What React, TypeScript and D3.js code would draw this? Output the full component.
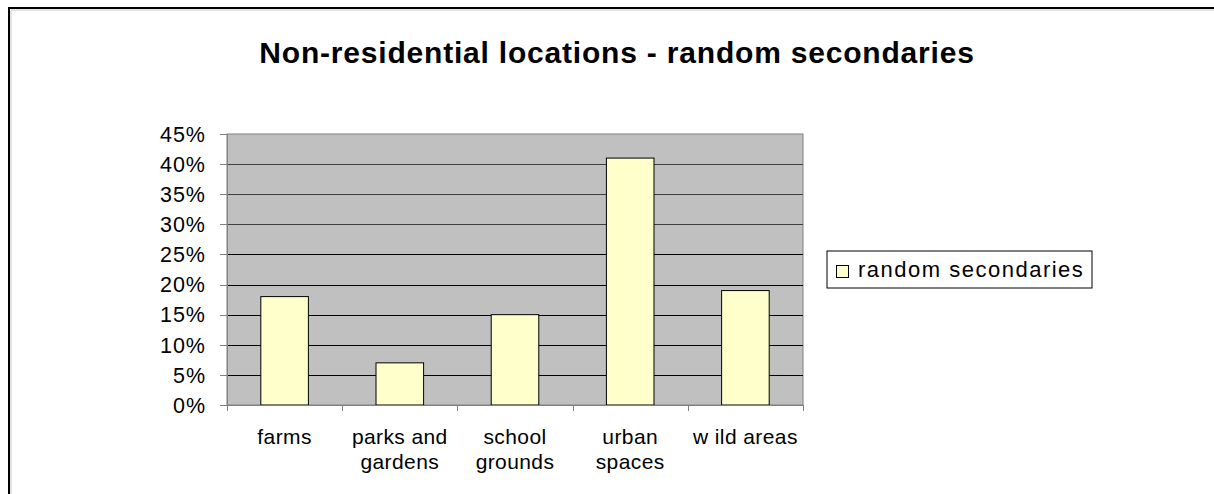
import React from "react";
import * as d3 from "d3";

const categories: string[][] = [
  ["farms"],
  ["parks and", "gardens"],
  ["school", "grounds"],
  ["urban", "spaces"],
  ["w ild areas"],
];
const values: number[] = [0.18, 0.07, 0.15, 0.41, 0.19];
const yTicks: number[] = [0, 0.05, 0.1, 0.15, 0.2, 0.25, 0.3, 0.35, 0.4, 0.45];
const seriesName = "random secondaries";
const title = "Non-residential locations - random secondaries";

const W = 1214;
const H = 494;
const plot = { left: 227, right: 803, top: 134, bottom: 405 };
const FONT = "'Liberation Sans', Arial, sans-serif";

export default function App() {
  const x = d3
    .scaleBand<number>()
    .domain(d3.range(values.length))
    .range([plot.left, plot.right])
    .paddingInner(0.587)
    .paddingOuter(0.2935);
  const band = d3.scaleBand<number>().domain(d3.range(values.length)).range([plot.left, plot.right]);
  const y = d3.scaleLinear().domain([0, 0.45]).range([plot.bottom, plot.top]);
  const fmt = d3.format(".0%");

  return (
    <svg
      width={W}
      height={H}
      style={{ display: "block", position: "fixed", left: 0, top: 0, background: "#fff", overflow: "hidden" }}
    >
      <rect x={0} y={0} width={W} height={H} fill="#fff" />
      <path d="M9,494 V8 H1214" fill="none" stroke="#000" strokeWidth={2} />
      <path d="M11,494 V10 H1214" fill="none" stroke="#c8c8c8" strokeWidth={1} />
      <text
        x={617}
        y={63}
        textAnchor="middle"
        fontFamily={FONT}
        fontWeight="bold"
        fontSize={30}
        letterSpacing={0.8}
      >
        {title}
      </text>
      <rect
        x={plot.left}
        y={plot.top}
        width={plot.right - plot.left}
        height={plot.bottom - plot.top}
        fill="#C0C0C0"
        stroke="#808080"
        strokeWidth={1}
      />
      {yTicks
        .filter((t) => t > 0 && t < 0.45)
        .map((t) => (
          <line key={"g" + t} x1={plot.left} x2={plot.right} y1={Math.round(y(t)) + 0.5} y2={Math.round(y(t)) + 0.5} stroke={t > 0.27 ? "#404040" : "#000"} strokeWidth={1} />
        ))}
      {values.map((v, i) => (
        <rect
          key={"b" + i}
          x={x(i)!}
          y={y(v)}
          width={x.bandwidth()}
          height={plot.bottom - y(v)}
          fill="#FFFFCC"
          stroke="#000"
          strokeWidth={1}
        />
      ))}
      <line x1={plot.left + 0.5} x2={plot.left + 0.5} y1={plot.top} y2={plot.bottom} stroke="#808080" />
      <line x1={plot.left} x2={plot.right} y1={plot.bottom + 0.5} y2={plot.bottom + 0.5} stroke="#808080" />
      {yTicks.map((t) => (
        <g key={"t" + t}>
          <line x1={220} x2={plot.left} y1={Math.round(y(t)) + 0.5} y2={Math.round(y(t)) + 0.5} stroke="#808080" />
          <text
            x={206}
            y={y(t)}
            dy="0.36em"
            textAnchor="end"
            fontFamily={FONT}
            fontSize={21.5}
            letterSpacing={1}
          >
            {fmt(t)}
          </text>
        </g>
      ))}
      {d3.range(values.length + 1).map((i) => {
        const xx = i < values.length ? band(i)! : plot.right;
        return <line key={"xt" + i} x1={Math.round(xx) + 0.5} x2={Math.round(xx) + 0.5} y1={plot.bottom} y2={plot.bottom + 6} stroke="#808080" />;
      })}
      {categories.map((lines, i) => (
        <text
          key={"c" + i}
          x={band(i)! + band.bandwidth() / 2}
          y={444}
          textAnchor="middle"
          fontFamily={FONT}
          fontSize={21}
          letterSpacing={0.4}
        >
          {lines.map((l, j) => (
            <tspan key={j} x={band(i)! + band.bandwidth() / 2} dy={j === 0 ? 0 : 25}>
              {l}
            </tspan>
          ))}
        </text>
      ))}
      <rect x={827} y={251} width={265} height={37} fill="#fff" stroke="#000" strokeWidth={1} />
      <rect x={836.5} y={265.5} width={12} height={12} fill="#FFFFCC" stroke="#000" strokeWidth={1} />
      <text x={858} y={277} fontFamily={FONT} fontSize={22} letterSpacing={1.5}>
        {seriesName}
      </text>
    </svg>
  );
}
